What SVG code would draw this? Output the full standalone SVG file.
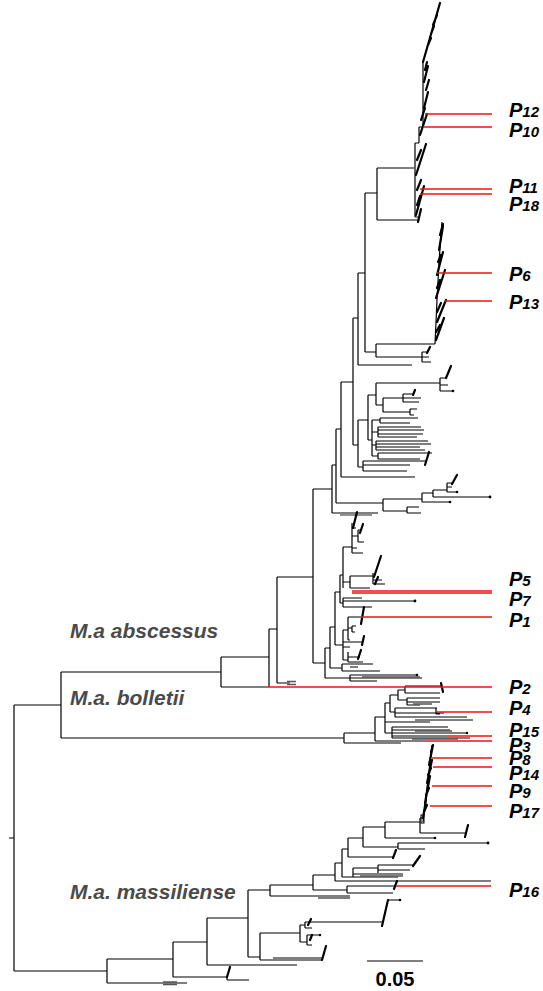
<svg xmlns="http://www.w3.org/2000/svg" width="543" height="991" viewBox="0 0 543 991">
<style>
.b{fill:none;stroke:#000;stroke-width:1.2}
.t{fill:none;stroke:#000;stroke-width:2.2;stroke-linecap:round}
.g{fill:none;stroke:#555;stroke-width:1.3}
.r{fill:none;stroke:#ee1515;stroke-width:1.4}
.d{fill:#000}
.lab{font-family:"Liberation Sans",Arial,sans-serif;font-weight:bold;font-style:italic;font-size:20px;fill:#000}
.s{font-size:15px}
.cl{font-family:"Liberation Sans",Arial,sans-serif;font-weight:bold;font-style:italic;font-size:21px;fill:#4a4a4a}
.sc{font-family:"Liberation Sans",Arial,sans-serif;font-weight:bold;font-size:20px;fill:#000}
</style>
<rect width="543" height="991" fill="#fff"/>
<g id="connectors">
<path class="b" d="M9,838H14 M14,705V971 M14,705H61 M14,971H107 M61,672V738 M61,672H221 M61,738H344 M221,657V687 M221,657H269 M221,687H265 M269,629V687 M269,629H277 M277,577V683 M277,683H290 M277,577H313 M313,489V663 M313,489H332 M313,663H325"/>
<path class="g" d="M287,681.5H296 M287,684.5H296"/>
<path class="b" d="M332,465V513 M332,465H336 M336,429V503 M336,429H341 M336,503H383 M341,382V477 M341,382H353 M341,477H415 M332,513H378 M353,318V445 M353,318H358 M353,445H358 M358,273V365 M358,273H365 M358,365H412 M365,193V352 M365,193H377 M365,352H376 M377,168V220 M377,168H414 M377,220H418 M376,344V357 M376,344H435 M376,357H422 M422,352V362 M422,352H427 M422,357H429 M422,362H431"/>
<path class="g" d="M340,515H372"/>
<path class="t" d="M427,353L430,347"/>
<path class="b" d="M423,62V127 M423,127H419 M419,127V143 M419,143H415 M415,143V217 M415,217H418"/>
<path class="t" d="M423,62L440,3 M424,82L428,66 M424,108L428,92 M420,135L427,114 M416,175L426,144 M416,215L424,186 M418,222L421,209 M428,45L431,38 M431,34L434,26 M425,70L427,62 M426,90L429,80 M421,120L425,108 M417,160L421,150 M417,190L421,180 M417,205L420,196 M433,25L437,15"/>
<path class="b" d="M435,344L437,300L439,262L442,222"/>
<path class="t" d="M439,250L443,226 M437,275L443,252 M436,298L445,270 M437,322L446,300 M436,340L444,318 M440,235L443,224 M438,262L441,255 M437,288L440,280 M437,312L441,303 M436,332L440,325"/>
<path class="b" d="M358,420V467 M358,420H368 M368,395V440 M368,395H376 M376,383V405 M376,383H440 M440,378V391 M440,378H446 M440,385H448 M440,391H453 M376,405H383 M383,398V412 M383,398H403 M403,394V402 M403,394H413 M403,398H421 M403,402H419 M383,412H410 M410,409V415 M410,409H417 M410,415H414 M368,440H372 M372,420V456 M372,420H380 M380,418V423 M380,418H418 M380,423H410 M372,432H378 M378,427V437 M378,427H421 M378,430H424 M378,434H423 M378,437H417 M372,445H376 M376,441V450 M376,441H428 M376,444H431 M376,447H420 M376,450H425 M372,456H378 M378,453V459 M378,453H432 M378,459H420 M358,467H363 M363,461V471 M363,461H427 M363,465H410 M363,471H407"/>
<path class="t" d="M446,378L451,366 M425,465L429,452 M413,395L415,390"/>
<path class="b" d="M383,499V511 M383,499H422 M383,511H407 M407,507V513 M407,507H419 M407,513H421 M422,493V502 M422,493H433 M422,502H450 M433,490V497 M433,490H447 M433,497H490 M447,483V492 M447,483H453 M447,487H452 M447,492H457"/>
<path class="t" d="M452,484L457,475"/>
<path class="b" d="M335,592V645 M335,592H340 M340,575V603 M340,575H343 M343,547V588 M343,547H352 M352,523V553 M352,528H356 M352,536H358 M358,530V542 M358,530H362 M358,542H364 M352,553H363 M352,548H357 M343,582H350 M350,576V588 M350,576H373 M350,588H370 M373,573V584 M373,584H385 M373,580H382 M340,603H343 M343,598V607 M343,598H362 M343,601H415 M343,607H372 M335,645H343 M343,630V660 M343,630H348 M348,617V640 M348,617H361 M348,628H352 M352,626V632 M352,626H356 M352,632H355 M348,640H350 M343,642H362 M343,647H350 M343,660H348 M348,652V662 M348,657H360 M348,662H363 M330,627V668 M330,627H335 M330,668H342 M342,664V671 M342,664H373 M342,671H380 M325,648V678 M325,648H330 M325,678H350 M350,675V681 M350,675H417 M350,678H422 M350,681H377"/>
<path class="g" d="M362,677H420 M350,667H358"/>
<path class="t" d="M353,528L357,512 M360,533L363,524 M374,577L381,556 M375,584L378,577 M361,624L364,607 M362,645L364,636 M358,659L361,650"/>
<path class="b" d="M344,733V743 M344,743H401 M344,733H375 M375,717V741 M375,741H425 M375,717H385 M385,703V733 M385,703H390 M390,695V712 M390,695H398 M398,690V700 M398,690H405 M405,686V693 M405,686H441 M405,693H440 M398,700H407 M407,698V705 M407,698H440 M407,702H440 M407,705H420 M390,712H395 M395,708V717 M395,708H437 M395,713H444 M395,717H467 M385,722H430 M385,733H392 M392,727V738 M392,727H448 M392,730H450 M392,733H467 M392,736H448 M392,738H470 M436,708V714 M436,714H440"/>
<path class="g" d="M413,704H432 M415,720H473 M412,739H458 M415,731H452"/>
<path class="t" d="M441,683L443,692"/>
<path class="b" d="M342,849H348 M348,838V857 M348,838H363 M348,857H393 M363,827V847 M363,827H385 M385,822V838 M385,822H420 M420,818V833 M420,833H467 M385,838H435 M363,847H398 M398,843V849 M398,843H488 M398,849H425 M420,818H423 M423,822L432,745"/>
<rect x="421" y="815" width="3" height="8" fill="none" stroke="#000" stroke-width="1"/>
<path class="t" d="M393,858L396,850 M465,837L468,825 M423,818L426,800 M425,803L430,776 M427,783L432,760 M429,765L433,745 M431,752L433,745 M428,775L431,768 M426,795L429,788 M424,812L427,805"/>
<path class="b" d="M270,885V896 M270,885H313 M270,896H350 M313,875V890 M313,875H335 M313,890H347 M347,886V893 M347,886H396 M347,893H393 M335,863V881 M335,863H342 M335,881H491 M342,849V877 M342,877H353 M353,868V877 M353,868H378 M353,874H403 M353,877H398 M378,865V873 M378,865H413 M378,870H410"/>
<path class="g" d="M360,876H403 M318,898H350"/>
<path class="t" d="M413,866L420,856 M394,889L397,881"/>
<path class="b" d="M248,890V957 M248,890H270 M248,957H260 M260,933V960 M260,933H300 M260,960H322 M300,925V942 M300,925H305 M305,922V928 M305,922H382 M305,928H312 M300,942H307 M307,935V945 M307,935H320 M307,945H312 M388,900H400 M207,918V965 M207,918H248 M207,965H297 M173,942V977 M173,942H207 M173,977H227 M227,977V980 M227,980H249 M107,959V983 M107,959H173 M107,983H187"/>
<path class="g" d="M273,958H322 M163,982H177 M163,984.5H177"/>
<path class="t" d="M322,960L326,946 M382,926L388,900 M308,925L311,919 M310,940L312,935 M227,977L230,967"/>
<g class="d">
<circle cx="490" cy="497" r="1.4"/><circle cx="450" cy="502" r="1.3"/><circle cx="457" cy="492" r="1.3"/><circle cx="453" cy="391" r="1.3"/><circle cx="415" cy="601" r="1.4"/><circle cx="417" cy="675" r="1.3"/><circle cx="435" cy="838" r="1.3"/><circle cx="488" cy="843" r="1.4"/><circle cx="400" cy="900" r="1.3"/><circle cx="320" cy="935" r="1.2"/><circle cx="467" cy="733" r="1.2"/>
</g>
<path class="r" d="M265,687H492 M425,114H492 M423,127H492 M420,189H492 M420,194H492 M437,273H492 M445,301H492 M352,591H492 M352,593H492 M361,617H492 M437,712H492 M448,736H492 M425,741H492 M432,758H492 M433,767H492 M432,786H492 M430,806H492 M396,886H491"/>
<path class="b" d="M367,961H423" stroke-width="1.4"/>
</g>
<g id="P12"><text class="lab" x="509" y="117">P<tspan class="s">12</tspan></text></g>
<g id="P10"><text class="lab" x="509" y="137">P<tspan class="s">10</tspan></text></g>
<g id="P11"><text class="lab" x="509" y="193">P<tspan class="s">11</tspan></text></g>
<g id="P18"><text class="lab" x="509" y="211">P<tspan class="s">18</tspan></text></g>
<g id="P6"><text class="lab" x="509" y="281">P<tspan class="s">6</tspan></text></g>
<g id="P13"><text class="lab" x="509" y="309">P<tspan class="s">13</tspan></text></g>
<g id="P5"><text class="lab" x="509" y="586">P<tspan class="s">5</tspan></text></g>
<g id="P7"><text class="lab" x="509" y="606">P<tspan class="s">7</tspan></text></g>
<g id="P1"><text class="lab" x="509" y="627">P<tspan class="s">1</tspan></text></g>
<g id="P2"><text class="lab" x="509" y="694">P<tspan class="s">2</tspan></text></g>
<g id="P4"><text class="lab" x="509" y="715">P<tspan class="s">4</tspan></text></g>
<g id="P15"><text class="lab" x="509" y="737">P<tspan class="s">15</tspan></text></g>
<g id="P3"><text class="lab" x="509" y="752">P<tspan class="s">3</tspan></text></g>
<g id="P8"><text class="lab" x="509" y="765">P<tspan class="s">8</tspan></text></g>
<g id="P14"><text class="lab" x="509" y="780">P<tspan class="s">14</tspan></text></g>
<g id="P9"><text class="lab" x="509" y="798">P<tspan class="s">9</tspan></text></g>
<g id="P17"><text class="lab" x="509" y="818">P<tspan class="s">17</tspan></text></g>
<g id="P16"><text class="lab" x="509" y="897">P<tspan class="s">16</tspan></text></g>
<g id="clade-abscessus"><text class="cl" x="70" y="638">M.a abscessus</text></g>
<g id="clade-bolletii"><text class="cl" x="70" y="705">M.a. bolletii</text></g>
<g id="clade-massiliense"><text class="cl" x="70" y="899">M.a. massiliense</text></g>
<g id="scale"><text class="sc" x="395" y="986" text-anchor="middle">0.05</text></g>
</svg>
